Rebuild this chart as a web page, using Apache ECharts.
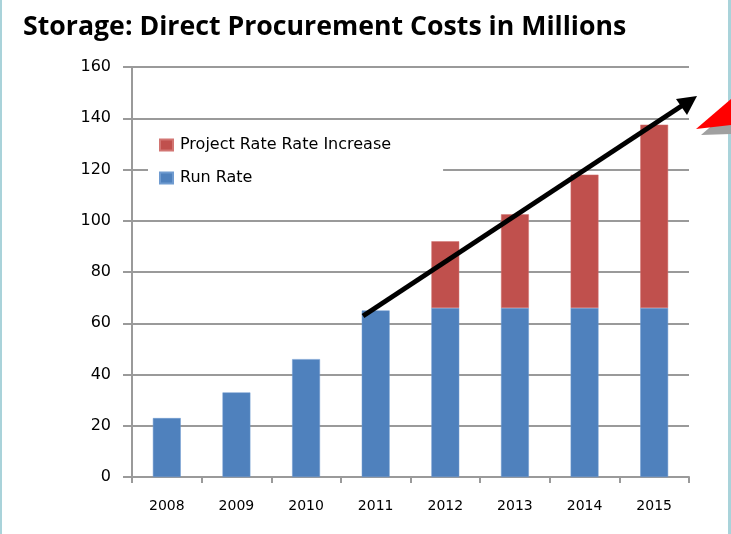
<!DOCTYPE html>
<html>
<head>
<meta charset="utf-8">
<style>
  html, body { margin: 0; padding: 0; background: #ffffff; }
  #chart { width: 731px; height: 534px; }
</style>
<script src="https://cdn.jsdelivr.net/npm/echarts@6/dist/echarts.min.js"></script>
</head>
<body>
<div id="chart"></div>
<script>
// Years on the category axis
const years = ['2008', '2009', '2010', '2011', '2012', '2013', '2014', '2015'];
// Run-rate spend (millions)
const runRate = [23, 33, 46, 65, 66, 66, 66, 66];
// Additional spend from project rate increase (millions), stacked on run rate
const projectIncrease = [null, null, null, null, 26, 36.5, 52, 71.5];
// Value-axis ticks
const yTicks = { min: 0, max: 160, interval: 20 };

const chart = echarts.init(document.getElementById('chart'), null, { renderer: 'canvas' });

const axisFont = "'DejaVu Sans', sans-serif";
const gridGray = '#9a9a9a';

chart.setOption({
  animation: false,
  backgroundColor: '#ffffff',
  title: {
    text: 'Storage: Direct Procurement Costs in Millions',
    left: 18,
    top: 9,
    textStyle: {
      fontFamily: "'Open Sans', sans-serif",
      fontWeight: 'bold',
      fontSize: 26.7,
      color: '#000000'
    }
  },
  legend: {
    orient: 'vertical',
    left: 148,
    top: 129,
    padding: [8, 52, 8, 11],
    backgroundColor: '#ffffff',
    itemWidth: 13,
    itemHeight: 11,
    itemGap: 17,
    icon: 'rect',
    data: ['Project Rate Rate Increase', 'Run Rate'],
    textStyle: { fontFamily: axisFont, fontSize: 16, color: '#000000', padding: [0, 0, 0, 2] }
  },
  grid: { left: 132, right: 42, top: 67, bottom: 57, containLabel: false },
  xAxis: {
    type: 'category',
    data: years,
    boundaryGap: true,
    axisLine: { lineStyle: { color: gridGray, width: 2 } },
    axisTick: { show: true, length: 6, interval: 0, lineStyle: { color: gridGray, width: 2 } },
    axisLabel: { margin: 22, fontFamily: axisFont, fontSize: 14, color: '#000000', interval: 0 }
  },
  yAxis: {
    type: 'value',
    min: yTicks.min,
    max: yTicks.max,
    interval: yTicks.interval,
    axisLine: { show: true, lineStyle: { color: gridGray, width: 2 } },
    axisTick: { show: true, inside: false, length: 9, lineStyle: { color: gridGray, width: 2 } },
    splitLine: { show: true, lineStyle: { color: gridGray, width: 2 } },
    axisLabel: { margin: 21, fontFamily: axisFont, fontSize: 16, color: '#000000' }
  },
  series: [
    {
      name: 'Run Rate',
      type: 'bar',
      stack: 'cost',
      barWidth: '40%',
      data: runRate,
      itemStyle: { color: '#4f81bd', borderColor: '#6f9bd0', borderWidth: 0.5 },
      z: 3
    },
    {
      name: 'Project Rate Rate Increase',
      type: 'bar',
      stack: 'cost',
      barWidth: '40%',
      data: projectIncrease,
      itemStyle: { color: '#c0504d', borderColor: '#d27572', borderWidth: 0.5 },
      z: 3
    }
  ],
  graphic: [
    // slide frame edges
    { type: 'rect', left: 0, top: 0, shape: { width: 2, height: 534 }, style: { fill: '#a9d3da' }, silent: true },
    { type: 'rect', left: 728, top: 0, shape: { width: 3, height: 534 }, style: { fill: '#a9d3da' }, silent: true },
    // trend arrow
    {
      type: 'line',
      shape: { x1: 363, y1: 316, x2: 683, y2: 105 },
      style: { stroke: '#000000', lineWidth: 5, lineCap: 'butt' },
      z: 100
    },
    {
      type: 'polygon',
      shape: { points: [[697, 96], [676, 99], [687, 115]] },
      style: { fill: '#000000' },
      z: 100
    },
    // callout pointer at the right edge, with its shadow
    {
      type: 'polygon',
      shape: { points: [[701, 135], [731, 109], [731, 134]] },
      style: { fill: '#a0a0a0' },
      z: 99
    },
    {
      type: 'polygon',
      shape: { points: [[696, 129], [731, 99], [731, 125]] },
      style: { fill: '#ff0000' },
      z: 100
    }
  ]
});
</script>
</body>
</html>
